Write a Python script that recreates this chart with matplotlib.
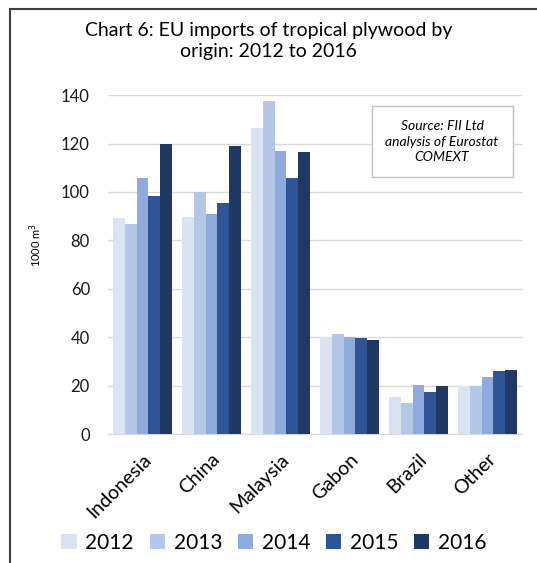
import matplotlib
matplotlib.use("Agg")
import matplotlib.pyplot as plt
import numpy as np

plt.rcParams['font.family'] = ['Lato', 'DejaVu Sans']

origins = ["Indonesia", "China", "Malaysia", "Gabon", "Brazil", "Other"]
years = ["2012", "2013", "2014", "2015", "2016"]

imports_2012 = [89.1, 89.7, 126.6, 40.0, 15.3, 20.0]
imports_2013 = [86.8, 99.9, 137.6, 41.4, 12.8, 20.0]
imports_2014 = [105.9, 91.0, 117.1, 40.2, 20.1, 23.5]
imports_2015 = [98.5, 95.3, 105.9, 39.7, 17.5, 26.1]
imports_2016 = [119.7, 119.1, 116.5, 38.8, 19.7, 26.6]

colours = ["#dae3f3", "#b4c7e7", "#8faadc", "#2f5597", "#203864"]

series = [imports_2012, imports_2013, imports_2014, imports_2015, imports_2016]

fig = plt.figure(figsize=(5.37, 5.63), dpi=100)
ax = fig.add_axes([0.201, 0.229, 0.771, 0.602])

x = np.arange(len(origins))
w = 0.17
for i, (vals, yr) in enumerate(zip(series, years)):
    ax.bar(x + (i - 2) * w, vals, w, color=colours[i], label=yr, zorder=3)

ax.set_xlim(-0.5, len(origins) - 0.5)
ax.set_ylim(0, 140)
ax.set_yticks(range(0, 141, 20))
ax.yaxis.grid(True, color="#d9d9d9", linewidth=1, zorder=0)
for s in ["top", "right", "left"]:
    ax.spines[s].set_visible(False)
ax.spines["bottom"].set_color("#d9d9d9")
ax.tick_params(axis="y", length=0, pad=13, labelsize=12, labelcolor="#1a1a1a")
ax.tick_params(axis="x", length=0, pad=12, labelsize=14)
ax.set_xticks(x)
ax.set_xticklabels(origins, rotation=45, ha="right", rotation_mode="anchor")

fig.text(0.066, 0.565, "1000 m$^3$", rotation=90, fontsize=8, ha="center", va="center")

fig.text(0.5, 0.927, "Chart 6: EU imports of tropical plywood by\norigin: 2012 to 2016",
         ha="center", va="center", fontsize=14, linespacing=1.3)

ax.text(0.807, 0.863, "Source: FII Ltd\nanalysis of Eurostat\nCOMEXT", transform=ax.transAxes,
        ha="center", va="center", fontsize=10, style="italic", linespacing=1.35,
        bbox=dict(boxstyle="square,pad=1.0", facecolor="white", edgecolor="#bfbfbf"), zorder=5)

fig.legend(loc="center", bbox_to_anchor=(0.51, 0.036), ncol=5, frameon=False,
           fontsize=15, handlelength=0.75, handleheight=0.75, handletextpad=0.4,
           columnspacing=0.75)

# frame lines on top and left
fig.add_artist(plt.Line2D([10 / 537, 1], [1 - 9 / 563, 1 - 9 / 563], color="#404040", linewidth=1.5))
fig.add_artist(plt.Line2D([10 / 537, 10 / 537], [0, 1 - 9 / 563], color="#404040", linewidth=1.5))

fig.savefig("out.png", dpi=100)
